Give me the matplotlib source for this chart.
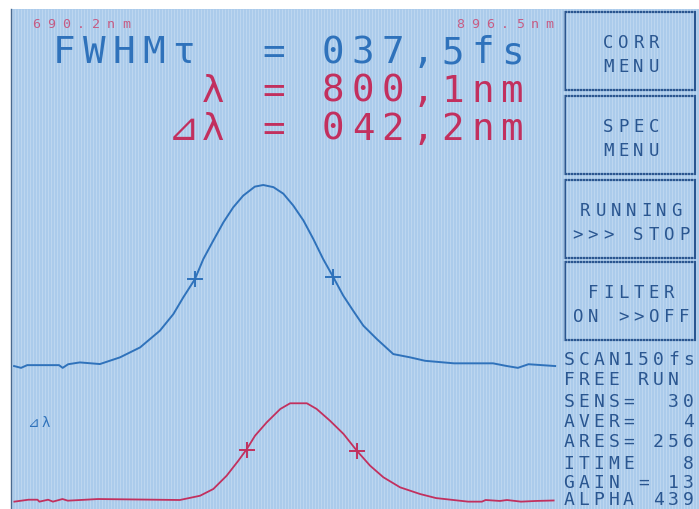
import matplotlib
matplotlib.use("Agg")
import matplotlib.pyplot as plt
from matplotlib.patches import Rectangle

# autocorrelation trace (delay in fs, normalised signal)
ac_delay = [-68.0, -66.1, -64.4, -55.7, -54.7, -53.2, -50.0, -44.5, -39.0, -33.5, -28.1,
            -24.4, -21.7, -18.5, -16.2, -13.5, -10.7, -8.0, -5.3, -2.1, 0.2, 3.0, 5.7,
            8.4, 11.2, 13.9, 16.6, 19.4, 22.1, 24.8, 27.6, 31.3, 35.8, 40.4, 44.5,
            52.4, 63.1, 66.9, 69.9, 72.8, 80.1]
ac_signal = [0.00, -0.01, 0.005, 0.005, -0.01, 0.01, 0.02, 0.011, 0.048, 0.103, 0.195,
             0.287, 0.379, 0.480, 0.591, 0.692, 0.794, 0.877, 0.941, 0.991, 1.00, 0.988, 0.952,
             0.887, 0.804, 0.702, 0.591, 0.490, 0.389, 0.306, 0.223, 0.149, 0.066, 0.048, 0.029,
             0.015, 0.015, 0.00, -0.01, 0.01, 0.00]
ac_mark_x = [-18.5, 19.4]
ac_mark_y = [0.48, 0.49]

# spectrum (wavelength in nm, normalised intensity)
sp_wl = [691.1, 696.4, 699.8, 700.5, 703.8, 705.6, 709.2, 711.2, 722.6, 753.4, 761.0,
         766.0, 771.0, 775.4, 778.6, 781.7, 786.1, 791.2, 794.9, 801.2, 804.9, 809.9,
         815.0, 820.0, 825.0, 830.0, 836.3, 843.8, 849.8, 861.9, 867.1, 868.5, 873.9,
         876.5, 881.8, 887.4, 894.1]
sp_int = [-0.017, 0.003, 0.003, -0.017, 0.003, -0.017, 0.01, -0.007, 0.01, 0.0, 0.044,
          0.114, 0.251, 0.406, 0.527, 0.665, 0.803, 0.941, 1.00, 1.00, 0.941, 0.820,
          0.683, 0.510, 0.355, 0.235, 0.131, 0.062, 0.02, -0.017, -0.017, 0.0, -0.01,
          0.0, -0.017, -0.01, -0.005]
sp_mark_x = [778.6, 820.0]
sp_mark_y = [0.52, 0.51]

wl_min, wl_max = 690.2, 896.5
header_lines = ["FWHMτ  = 037,5fs", "     λ = 800,1nm", "    ⊿λ = 042,2nm"]
buttons = [("CORR", "MENU"), ("SPEC", "MENU"), ("RUNNING", ">>> STOP"), ("FILTER", "ON >>OFF")]
status = ["SCAN150fs", "FREE RUN", "SENS=  30", "AVER=   4", "ARES= 256",
          "ITIME   8", "GAIN = 13", "ALPHA 439"]

BG = "#abcbeb"
BLUE = "#2f72bb"
RED = "#c2305e"
PINK = "#c65c84"
NAVY = "#2a5690"
FONT = ["DejaVu Sans Mono", "DejaVu Sans"]

fig = plt.figure(figsize=(6.99, 5.10), dpi=100)
fig.patch.set_facecolor("white")

ax = fig.add_axes([0, 0, 1, 1])
ax.set_xlim(0, 699)
ax.set_ylim(510, 0)
ax.axis("off")
ax.add_patch(Rectangle((11, 10), 700, 510, facecolor=BG, edgecolor="none"))
# faint vertical LCD columns
ax.vlines(range(12, 699, 3), 10, 510, color="#d6e6f5", lw=0.6, alpha=0.5)
ax.plot([11, 11], [10, 510], color="#4a6a90", lw=1)


def put(text, x0, y, pitch, size, color, center=False):
    n = len(text)
    if center:
        x0 = x0 - (n - 1) / 2 * pitch
    for i, ch in enumerate(text):
        if ch != " ":
            ax.text(x0 + i * pitch, y, ch, ha="center", va="baseline",
                    fontsize=size, color=color, family=FONT)


# wavelength range labels
put("690.2nm", 36.6, 28, 14.9, 9.5, PINK)
put("896.5nm", 460, 28, 14.9, 9.5, PINK)

# big readouts
put(header_lines[0], 64, 63, 29.9, 27, BLUE)
put(header_lines[1], 64, 102, 29.9, 27, RED)
put(header_lines[2], 64, 140, 29.9, 27, RED)

# menu buttons
box_top = [13, 97, 181, 263]
for (l1, l2), top in zip(buttons, box_top):
    ax.add_patch(Rectangle((565, top), 130, 78, facecolor="none", edgecolor=NAVY, lw=1.6))
    put(l1, 631, top + 35, 15.2, 12.5, NAVY, center=True)
    put(l2, 631, top + 59, 15.2, 12.5, NAVY, center=True)

# status list
rows_y = [365, 385, 407, 427, 447, 469, 488, 505]
for s, yy in zip(status, rows_y):
    put(s, 569, yy, 14.9, 13, NAVY)

put("⊿λ", 33, 427, 13, 10, BLUE)

# curve areas
pos = [12 / 699, 5 / 510, 548 / 699, 345 / 510]

ax_ac = fig.add_axes(pos)
ax_ac.set_xlim(-68.57, 81.43)
ax_ac.set_ylim(-0.762, 1.1436)
ax_ac.axis("off")
ax_ac.patch.set_alpha(0)
ax_ac.plot(ac_delay, ac_signal, color=BLUE, lw=1.4)
ax_ac.plot(ac_mark_x, ac_mark_y, ls="none", marker="+", ms=11, mew=1.4, color=BLUE)

ax_sp = fig.add_axes(pos)
ax_sp.set_xlim(wl_min, wl_max)
ax_sp.set_ylim(-0.0414, 3.526)
ax_sp.axis("off")
ax_sp.patch.set_alpha(0)
ax_sp.plot(sp_wl, sp_int, color=RED, lw=1.3)
ax_sp.plot(sp_mark_x, sp_mark_y, ls="none", marker="+", ms=11, mew=1.4, color=RED)

fig.savefig("out.png", dpi=100)
